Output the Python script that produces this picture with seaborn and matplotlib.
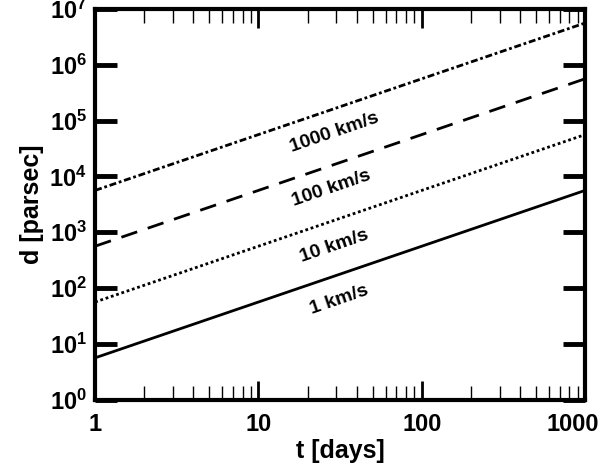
import seaborn as sns
import matplotlib.pyplot as plt
import matplotlib.transforms as mtransforms
import pandas as pd
from matplotlib.ticker import FixedLocator, NullFormatter

# endpoints (straight lines in log-log)
t_days = [1, 1000]
d_1 = [5.6, 5600]
d_10 = [56, 56000]
d_100 = [560, 560000]
d_1000 = [5600, 5600000]
labels = ['1 km/s', '10 km/s', '100 km/s', '1000 km/s']
label_x = [31, 29, 28, 29]
label_y = [60, 570, 6000, 60000]

sns.set_theme(style='ticks')
plt.rcParams['font.family'] = ['Liberation Sans', 'DejaVu Sans']
plt.rcParams['font.weight'] = 'bold'
plt.rcParams['mathtext.fontset'] = 'custom'
plt.rcParams['mathtext.rm'] = 'Liberation Sans:bold'
plt.rcParams['mathtext.bf'] = 'Liberation Sans:bold'
plt.rcParams['text.color'] = 'black'
plt.rcParams['xtick.color'] = 'black'
plt.rcParams['ytick.color'] = 'black'
plt.rcParams['axes.labelcolor'] = 'black'

df = pd.DataFrame({
    't': t_days * 4,
    'd': d_1 + d_10 + d_100 + d_1000,
    'v': [l for l in labels for _ in t_days],
})

styles = {
    '1 km/s': '-',
    '10 km/s': (0, (1, 1)),
    '100 km/s': (0, (6, 4)),
    '1000 km/s': (0, (2.5, 1, 1, 1)),
}

fig = plt.figure(figsize=(6.02, 4.69), dpi=100)
ax = fig.add_axes([0.158, 0.148, 0.814, 0.833])

for v in labels:
    sub = df[df['v'] == v]
    sns.lineplot(data=sub, x='t', y='d', ax=ax, color='black', lw=2.0,
                 linestyle=styles[v], legend=False)

ax.set_xscale('log')
ax.set_yscale('log')
ax.set_xlim(1, 1000)
ax.set_ylim(1, 1e7)

for v, x, y in zip(labels, label_x, label_y):
    ax.text(x, y, v, rotation=19, ha='center', va='center',
            fontsize=14, fontweight='bold', color='black')

ax.xaxis.set_major_locator(FixedLocator([1, 10, 100, 1000]))
ax.set_xticklabels(['1', '10', '100', '1000'])
ax.yaxis.set_major_locator(FixedLocator([10.0**k for k in range(8)]))
ax.set_yticklabels([f'$\\mathbf{{10^{{{k}}}}}$' for k in range(8)])
ax.yaxis.set_minor_locator(FixedLocator([]))
ax.xaxis.set_minor_formatter(NullFormatter())

ax.tick_params(which='major', axis='y', direction='in', length=16, width=3.5,
               left=True, right=True, labelsize=17, pad=6)
ax.tick_params(which='major', axis='x', direction='in', length=14, width=2,
               top=True, bottom=True, labelsize=17, pad=10)
ax.tick_params(which='minor', axis='x', direction='in', length=10, width=1,
               top=True, bottom=True)

# pull the last x label in so it stays on the canvas
shift = mtransforms.ScaledTranslation(-12 / 100, 0, fig.dpi_scale_trans)
last = ax.get_xticklabels()[-1]
last.set_transform(last.get_transform() + shift)

for s in ax.spines.values():
    s.set_linewidth(3)
    s.set_color('black')

ax.set_xlabel('t [days]', fontsize=18, fontweight='bold', labelpad=2)
ax.set_ylabel('d [parsec]', fontsize=18, fontweight='bold', labelpad=4)

fig.savefig('out.png', dpi=100)
